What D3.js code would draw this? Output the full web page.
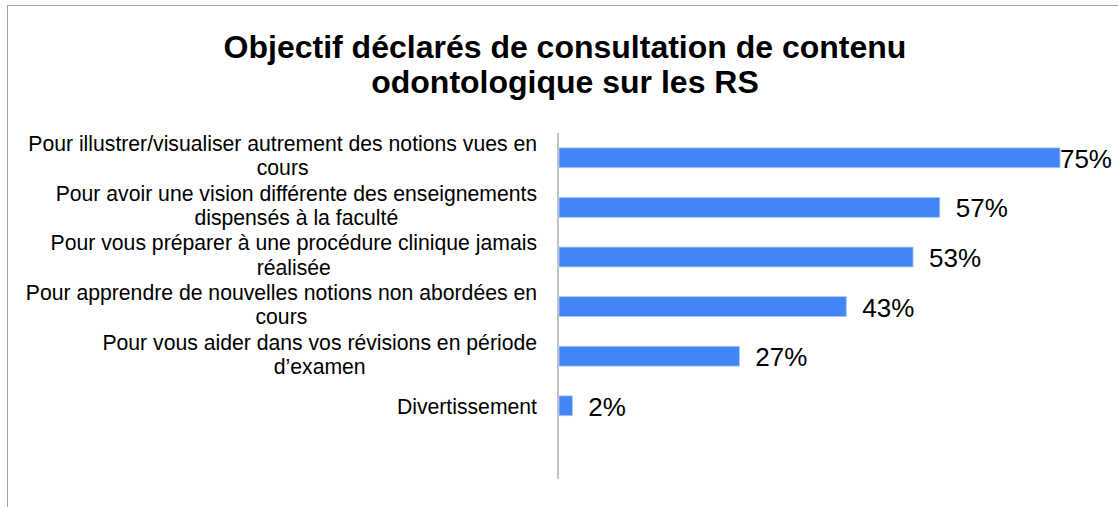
<!DOCTYPE html>
<html>
<head>
<meta charset="utf-8">
<script src="https://cdn.jsdelivr.net/npm/d3@7"></script>
<style>
    body { margin: 0; background: #fff; }
    svg { display: block; font-family: "Liberation Sans", Arial, sans-serif; }
</style>
</head>
<body>
<div id="chart"></div>
<script>
var WIDTH = 1118;
var HEIGHT = 507;

var titleLines = ['Objectif déclarés de consultation de contenu', 'odontologique sur les RS'];

var categories = [
    ['Pour illustrer/visualiser autrement des notions vues en', 'cours'],
    ['Pour avoir une vision différente des enseignements', 'dispensés à la faculté'],
    ['Pour vous préparer à une procédure clinique jamais', 'réalisée'],
    ['Pour apprendre de nouvelles notions non abordées en', 'cours'],
    ['Pour vous aider dans vos révisions en période', 'd’examen'],
    ['Divertissement'],
];
var values = [75, 57, 53, 43, 27, 2];

var axisX = 558;
var plotTop = 133;
var slot = 49.6;
var pxPerPct = 6.68;

var svg = d3.select('#chart').append('svg')
    .attr('width', WIDTH)
    .attr('height', HEIGHT);

// frame
svg.append('rect')
    .attr('x', 7.5).attr('y', 5.5)
    .attr('width', WIDTH).attr('height', HEIGHT)
    .attr('fill', 'none')
    .attr('stroke', '#a0a0a0');

svg.append('text')
    .attr('text-anchor', 'middle')
    .attr('font-weight', 'bold')
    .attr('font-size', 32)
    .attr('fill', '#000')
    .selectAll('tspan')
    .data(titleLines)
    .enter()
    .append('tspan')
    .attr('x', 565)
    .attr('y', (d, i) => 58 + i * 35)
    .text(d => d);

var x = d3.scaleLinear()
    .domain([0, 100])
    .range([axisX, axisX + 100 * pxPerPct]);

var y = d3.scaleBand()
    .domain(d3.range(categories.length))
    .range([plotTop, plotTop + slot * categories.length])
    .paddingInner(0.6)
    .paddingOuter(0.3);

// axis line (extends below the last category)
svg.append('line')
    .attr('x1', axisX).attr('x2', axisX)
    .attr('y1', plotTop).attr('y2', 479)
    .attr('stroke', '#9a9a9a')
    .attr('stroke-width', 1.2);

svg.selectAll('rect.bar')
    .data(values)
    .enter()
    .append('rect')
    .attr('class', 'bar')
    .attr('x', x(0) + 1)
    .attr('y', (d, i) => y(i))
    .attr('width', d => x(d) - x(0))
    .attr('height', y.bandwidth())
    .attr('fill', '#4285f4')
    .attr('stroke', '#a9c7f9')
    .attr('stroke-width', 0.8);

// category labels: centered lines, block right-aligned
var labels = svg.selectAll('g.label')
    .data(categories)
    .enter()
    .append('g')
    .attr('class', 'label');

labels.each(function(lines, i) {
    var g = d3.select(this);
    var cy = y(i) + y.bandwidth() / 2;
    var lh = 24.3;
    var t = g.append('text')
        .attr('font-size', 21.2)
        .attr('fill', '#000')
        .attr('text-anchor', 'middle');
    lines.forEach((line, j) => {
        t.append('tspan')
            .attr('y', cy + (lines.length > 1 ? 5.5 : 7.7) + (j - (lines.length - 1) / 2) * lh)
            .text(line);
    });
    var widths = [];
    t.selectAll('tspan').each(function() { widths.push(this.getComputedTextLength()); });
    var cx = 537 - d3.max(widths) / 2;
    t.selectAll('tspan').attr('x', cx);
});

svg.selectAll('text.value')
    .data(values)
    .enter()
    .append('text')
    .attr('class', 'value')
    .attr('font-size', 26)
    .attr('fill', '#000')
    .attr('y', (d, i) => y(i) + y.bandwidth() / 2 + 10)
    .text(d => d + '%')
    .attr('x', function(d) {
        var w = this.getComputedTextLength();
        return Math.min(x(d) + 17, WIDTH - 6 - w);
    });
</script>
</body>
</html>
